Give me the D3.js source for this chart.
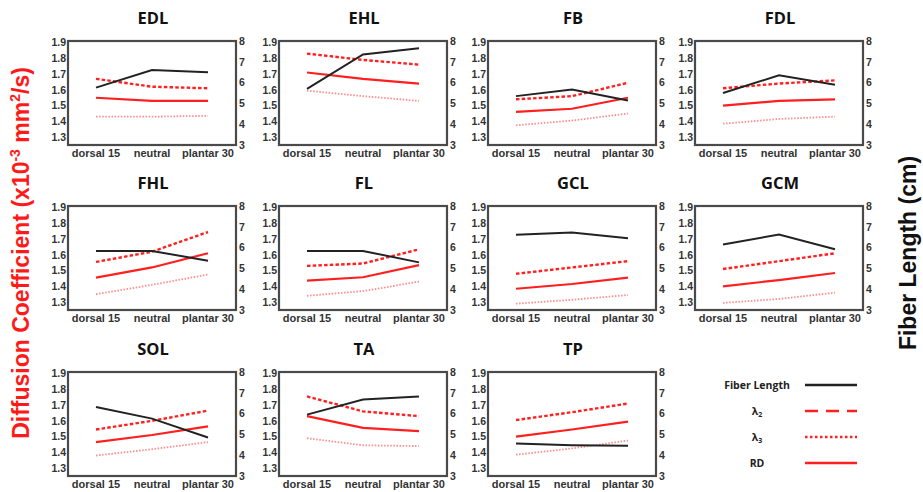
<!DOCTYPE html>
<html>
<head>
<meta charset="utf-8">
<script src="https://cdn.jsdelivr.net/npm/d3@7"></script>
<style>
  body { margin: 0; background: #fff; }
  svg { display: block; }
  .tick-label { font-family: "Liberation Sans", Arial, sans-serif; font-weight: bold; font-size: 10.5px; fill: #333; }
  .x-label { font-family: "Liberation Sans", Arial, sans-serif; font-weight: bold; font-size: 11px; fill: #333; }
  .title { font-family: "Open Sans", sans-serif; font-weight: bold; font-size: 16.5px; fill: #111; }
  .legend-label { font-family: "Open Sans", sans-serif; font-weight: bold; font-size: 10.5px; fill: #222; }
</style>
</head>
<body>
<svg id="chart"></svg>
<script>
// muscles, one panel each
const muscles = ['EDL', 'EHL', 'FB', 'FDL', 'FHL', 'FL', 'GCL', 'GCM', 'SOL', 'TA', 'TP'];
const positions = ['dorsal 15', 'neutral', 'plantar 30'];

// fiber length (cm), right axis
const fiberLength = [
    [5.76, 6.60, 6.50],
    [5.70, 7.35, 7.65],
    [5.35, 5.67, 5.14],
    [5.50, 6.35, 5.90],
    [5.84, 5.84, 5.37],
    [5.84, 5.84, 5.29],
    [6.62, 6.72, 6.45],
    [6.15, 6.63, 5.92],
    [6.32, 5.76, 4.85],
    [5.95, 6.68, 6.82],
    [4.56, 4.48, 4.45]
];

// diffusion coefficients (x10^-3 mm2/s), left axis
const lambda2 = [
    [1.67, 1.62, 1.61],
    [1.83, 1.79, 1.76],
    [1.54, 1.56, 1.645],
    [1.61, 1.64, 1.66],
    [1.555, 1.62, 1.745],
    [1.53, 1.545, 1.635],
    [1.48, 1.52, 1.56],
    [1.51, 1.56, 1.61],
    [1.545, 1.60, 1.665],
    [1.755, 1.66, 1.63],
    [1.605, 1.655, 1.71]
];
const lambda3 = [
    [1.43, 1.43, 1.435],
    [1.595, 1.56, 1.53],
    [1.375, 1.405, 1.45],
    [1.385, 1.415, 1.43],
    [1.35, 1.41, 1.475],
    [1.34, 1.37, 1.43],
    [1.29, 1.315, 1.345],
    [1.295, 1.32, 1.36],
    [1.38, 1.42, 1.465],
    [1.49, 1.445, 1.44],
    [1.385, 1.425, 1.475]
];
const rd = [
    [1.55, 1.53, 1.53],
    [1.71, 1.67, 1.64],
    [1.46, 1.48, 1.55],
    [1.50, 1.53, 1.54],
    [1.455, 1.52, 1.61],
    [1.437, 1.458, 1.535],
    [1.385, 1.415, 1.455],
    [1.40, 1.44, 1.485],
    [1.465, 1.51, 1.565],
    [1.63, 1.555, 1.535],
    [1.50, 1.545, 1.595]
];

const leftTicks = [1.3, 1.4, 1.5, 1.6, 1.7, 1.8, 1.9];
const rightTicks = [3, 4, 5, 6, 7, 8];

const width = 923, height = 492;
const panelW = 168, panelH = 104;
const colX = [68, 279, 488, 695];
const rowY = [41, 206, 372];

const red = '#ff1f1f';
const pale = '#ff8c8c';
const dark = '#222';

const series = [
    { key: 'rd', values: rd, color: red, width: 2.2, dash: null, axis: 'left' },
    { key: 'l3', values: lambda3, color: pale, width: 1.8, dash: '1.5,1.6', axis: 'left' },
    { key: 'l2', values: lambda2, color: red, width: 2.4, dash: '3.5,2.2', axis: 'left' },
    { key: 'fl', values: fiberLength, color: dark, width: 2, dash: null, axis: 'right' }
];

const svg = d3.select('#chart')
    .attr('width', width)
    .attr('height', height);

const x = d3.scalePoint().domain(positions).range([0, panelW]).padding(0.5);
const yLeft = d3.scaleLinear().domain([1.25, 1.91]).range([panelH, 0]);
const yRight = d3.scaleLinear().domain([3, 8]).range([panelH, 0]);

muscles.forEach((m, i) => {
    const g = svg.append('g')
        .attr('transform', `translate(${colX[i % 4]},${rowY[Math.floor(i / 4)]})`);

    g.append('text')
        .attr('class', 'title')
        .attr('x', panelW / 2 + 1)
        .attr('y', -17)
        .attr('text-anchor', 'middle')
        .text(m);

    // left ticks
    g.selectAll('.lt')
        .data(leftTicks)
        .join('text')
        .attr('class', 'tick-label')
        .attr('x', -2)
        .attr('y', d => yLeft(d))
        .attr('dy', '0.36em')
        .attr('text-anchor', 'end')
        .text(d => d.toFixed(1));

    // right ticks
    g.selectAll('.rt')
        .data(rightTicks)
        .join('text')
        .attr('class', 'tick-label')
        .attr('x', panelW + 3)
        .attr('y', d => yRight(d))
        .attr('dy', '0.36em')
        .text(d => d);

    g.selectAll('.xl')
        .data(positions)
        .join('text')
        .attr('class', 'x-label')
        .attr('x', d => x(d))
        .attr('y', panelH + 12)
        .attr('text-anchor', 'middle')
        .text(d => d);

    for (const s of series) {
        const yS = s.axis === 'left' ? yLeft : yRight;
        const line = d3.line()
            .x((d, j) => x(positions[j]))
            .y(d => yS(d));
        g.append('path')
            .datum(s.values[i])
            .attr('d', line)
            .attr('fill', 'none')
            .attr('stroke', s.color)
            .attr('stroke-width', s.width)
            .attr('stroke-dasharray', s.dash);
    }

    g.append('rect')
        .attr('width', panelW)
        .attr('height', panelH)
        .attr('fill', 'none')
        .attr('stroke', '#4a4a4a')
        .attr('stroke-width', 2.2);
});

// legend
const legendItems = [
    { label: 'Fiber Length', color: dark, width: 2.6, dash: null },
    { label: 'λ', sub: '2', color: red, width: 2.6, dash: '13,8' },
    { label: 'λ', sub: '3', color: red, width: 2.6, dash: '2.5,2.5' },
    { label: 'RD', color: red, width: 2.6, dash: null }
];
const legendY = d3.scalePoint().domain(d3.range(legendItems.length)).range([385, 463]);

const lg = svg.append('g');
legendItems.forEach((d, i) => {
    const t = lg.append('text')
        .attr('class', 'legend-label')
        .attr('x', 757)
        .attr('y', legendY(i))
        .attr('dy', '0.35em')
        .attr('text-anchor', 'middle')
        .text(d.label);
    if (d.sub) {
        t.append('tspan')
            .attr('font-size', '7px')
            .attr('dy', '2')
            .text(d.sub);
    }
    lg.append('line')
        .attr('x1', 805)
        .attr('x2', 857)
        .attr('y1', legendY(i))
        .attr('y2', legendY(i))
        .attr('stroke', d.color)
        .attr('stroke-width', d.width)
        .attr('stroke-dasharray', d.dash);
});

// axis titles
const leftTitle = svg.append('text')
    .attr('transform', 'translate(29,253) rotate(-90)')
    .attr('text-anchor', 'middle')
    .attr('fill', '#ff1a1a')
    .attr('font-family', '"Liberation Sans", Arial, sans-serif')
    .attr('font-weight', 'bold')
    .attr('font-size', '23px');
leftTitle.append('tspan').text('Diffusion Coefficient (x10');
leftTitle.append('tspan').attr('dy', -9).attr('font-size', '14px').text('-3');
leftTitle.append('tspan').attr('dy', 9).text(' mm');
leftTitle.append('tspan').attr('dy', -9).attr('font-size', '14px').text('2');
leftTitle.append('tspan').attr('dy', 9).text('/s)');

svg.append('text')
    .attr('transform', 'translate(916,253) rotate(-90)')
    .attr('text-anchor', 'middle')
    .attr('fill', '#111')
    .attr('font-family', '"Liberation Sans", Arial, sans-serif')
    .attr('font-weight', 'bold')
    .attr('font-size', '23px')
    .text('Fiber Length (cm)');
</script>
</body>
</html>
